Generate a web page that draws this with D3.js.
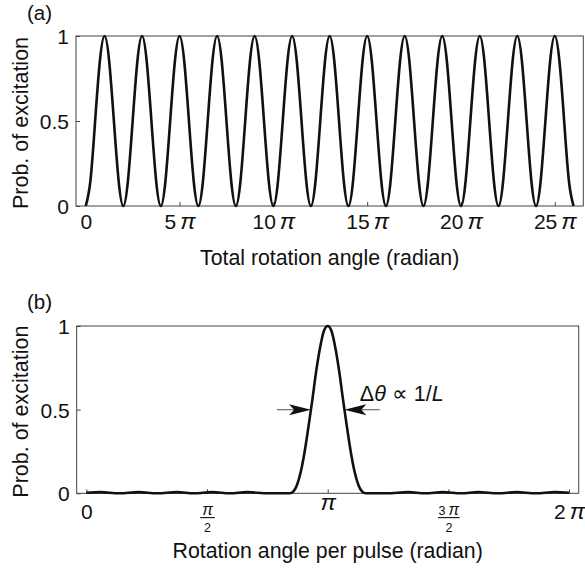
<!DOCTYPE html>
<html><head><meta charset="utf-8">
<script src="https://cdn.jsdelivr.net/npm/d3@7"></script>
<style>body{margin:0;background:#fff}svg{display:block}</style>
</head><body>
<svg id="c" width="585" height="574"></svg>
<script>
// ---------- data ----------
// Panel (a): probability read every quarter pi of total rotation angle, 0 .. 26 pi
const stepA = 0.25; // in units of pi
const probA = [
 0,0.15,0.5,0.85,1,0.85,0.5,0.15,
 0,0.15,0.5,0.85,1,0.85,0.5,0.15,
 0,0.15,0.5,0.85,1,0.85,0.5,0.15,
 0,0.15,0.5,0.85,1,0.85,0.5,0.15,
 0,0.15,0.5,0.85,1,0.85,0.5,0.15,
 0,0.15,0.5,0.85,1,0.85,0.5,0.15,
 0,0.15,0.5,0.85,1,0.85,0.5,0.15,
 0,0.15,0.5,0.85,1,0.85,0.5,0.15,
 0,0.15,0.5,0.85,1,0.85,0.5,0.15,
 0,0.15,0.5,0.85,1,0.85,0.5,0.15,
 0,0.15,0.5,0.85,1,0.85,0.5,0.15,
 0,0.15,0.5,0.85,1,0.85,0.5,0.15,
 0,0.15,0.5,0.85,1,0.85,0.5,0.15,
 0
];
const xTicksA = [0,5,10,15,20,25];          // multiples of pi
const yTicks = [0,0.5,1];
const yTickLabels = ["0","0.5","1"];

// Panel (b): rotation angle per pulse (rad) and probability
const angleB = [0,0.18,0.43,0.68,0.92,1.18,1.40,1.64,1.87,2.09,2.37,2.59,2.648,
  2.692,2.742,2.792,2.842,2.892,2.942,2.992,3.042,3.092,3.1416,
  3.191,3.241,3.291,3.341,3.391,3.441,3.491,3.541,3.591,3.635,
  3.69,3.91,4.19,4.41,4.64,4.88,5.10,5.36,5.60,5.85,6.10,6.283];
const probB = [0.003,0.007,0,0.007,0,0.007,0,0.007,0,0.007,0,0,0,
  0.01,0.05,0.13,0.25,0.40,0.56,0.73,0.87,0.97,1,
  0.97,0.87,0.73,0.56,0.40,0.25,0.13,0.05,0.01,0,
  0,0,0.007,0,0.007,0,0.007,0,0.007,0,0.007,0.003];
const xTicksB = [0,0.5,1,1.5,2];            // multiples of pi
const xTickLabelsB = [{t:"0"},{num:"π",den:"2"},{t:"π",pi:true},{num:"3 π",den:"2"},{t:"2 π"}];

// annotation (radians / probability)
const halfMax = 0.5;
const fwhmLeft = 2.925, fwhmRight = 3.358;
const arrowStartLeft = 2.48, arrowEndRight = 3.82;
const noteAngle = 3.56, noteProb = 0.55;

// ---------- drawing ----------
const FONT = '"Liberation Sans", Arial, Helvetica, sans-serif';
const PI = Math.PI;
const svg = d3.select("#c");
const frameColor = "#444";

function frame(x, y){
  const [x0,x1] = x.range(), [y0,y1] = y.range();
  svg.append("rect").attr("x",x0).attr("y",y1).attr("width",x1-x0).attr("height",y0-y1)
    .attr("fill","none").attr("stroke",frameColor).attr("stroke-width",1);
}
function yAxis(y, x){
  const g = svg.append("g").attr("transform",`translate(${x.range()[0]},0)`)
    .call(d3.axisLeft(y).tickValues(yTicks).tickSize(-4).tickPadding(7)
      .tickFormat((d,i)=>yTickLabels[i]));
  g.select(".domain").remove();
  g.attr("font-family",FONT).attr("font-size",21);
  g.selectAll(".tick line").attr("stroke",frameColor);
  g.selectAll(".tick text").attr("fill","#111").attr("dy","0.35em");
}
function bottomTicks(x, y, vals){
  const g = svg.append("g").attr("transform",`translate(0,${y.range()[0]})`)
    .call(d3.axisBottom(x).tickValues(vals).tickSize(-4).tickFormat(""));
  g.select(".domain").remove();
  g.selectAll(".tick line").attr("stroke",frameColor);
  g.selectAll(".tick text").remove();
  return g;
}
function yTitle(y, label){
  const [y0,y1] = y.range();
  svg.append("text").attr("transform",`translate(28,${(y0+y1)/2+2}) rotate(-90)`)
    .attr("text-anchor","middle").attr("font-family",FONT).attr("font-size",21.5)
    .attr("fill","#111").text(label);
}
function xTitle(x, baseline, label){
  const [x0,x1] = x.range();
  svg.append("text").attr("x",(x0+x1)/2).attr("y",baseline).attr("text-anchor","middle")
    .attr("font-family",FONT).attr("font-size",21.3).attr("fill","#111").text(label);
}
function piLabel(sel, pre, size, gap){
  sel.append("tspan").text(pre);
  sel.append("tspan").attr("dx", pre ? (gap||4) : 0).attr("font-style","italic")
     .attr("font-size", size).text("π");
}

// ---- Panel (a) ----
const xA = d3.scaleLinear().domain([-0.52*PI, 26.52*PI]).range([76, 583.3]);
const yA = d3.scaleLinear().domain([0,1]).range([206, 36]);
frame(xA, yA);
yAxis(yA, xA);
const gA = bottomTicks(xA, yA, xTicksA.map(v=>v*PI));
gA.selectAll(".tick").each(function(d,i){
  const k = xTicksA[i];
  const t = d3.select(this).append("text").attr("y",23).attr("text-anchor","middle")
    .attr("font-family",FONT).attr("font-size",21).attr("fill","#111");
  if (k === 0) t.text("0"); else piLabel(t, String(k), 23);
});
svg.append("path").datum(probA)
  .attr("d", d3.line().x((d,i)=>xA(i*stepA*PI)).y(d=>yA(d)).curve(d3.curveNatural))
  .attr("fill","none").attr("stroke","#111").attr("stroke-width",2.6).attr("stroke-linejoin","round");
yTitle(yA, "Prob. of excitation");
xTitle(xA, 265, "Total rotation angle (radian)");
svg.append("text").attr("x",27).attr("y",20).attr("font-family",FONT).attr("font-size",20.5)
  .attr("fill","#111").text("(a)");

// ---- Panel (b) ----
const xB = d3.scaleLinear().domain([-0.04*PI, 2.04*PI]).range([76.7, 578.7]);
const yB = d3.scaleLinear().domain([0,1]).range([493.3, 326]);
frame(xB, yB);
yAxis(yB, xB);
const gB = bottomTicks(xB, yB, xTicksB.map(v=>v*PI));
gB.selectAll(".tick").each(function(d,i){
  const L = xTickLabelsB[i];
  const g = d3.select(this);
  if (L.num){
    const n = g.append("text").attr("y",21.5).attr("text-anchor","middle")
      .attr("font-family",FONT).attr("font-size",12.5).attr("fill","#111");
    const parts = L.num.split(" ");
    if (parts.length > 1) piLabel(n, parts[0], 16, 3); else piLabel(n, "", 16);
    const w = n.node().getComputedTextLength() + 4;
    g.append("line").attr("x1",-w/2).attr("x2",w/2).attr("y1",24.3).attr("y2",24.3)
      .attr("stroke","#111").attr("stroke-width",1.1);
    g.append("text").attr("y",38.5).attr("text-anchor","middle")
      .attr("font-family",FONT).attr("font-size",12.5).attr("fill","#111").text(L.den);
  } else {
    const t = g.append("text").attr("y", L.pi ? 17 : 25.5).attr("text-anchor","middle")
      .attr("font-family",FONT).attr("font-size",21).attr("fill","#111");
    if (L.t === "0") t.text("0");
    else if (L.pi) piLabel(t, "", 23);
    else piLabel(t, L.t.split(" ")[0], 23);
  }
});
svg.append("path").datum(angleB.map((a,i)=>[a, probB[i]]))
  .attr("d", d3.line().x(d=>xB(d[0])).y(d=>yB(d[1])).curve(d3.curveMonotoneX))
  .attr("fill","none").attr("stroke","#111").attr("stroke-width",2.6).attr("stroke-linejoin","round");

// FWHM arrows
const ay = yB(halfMax);
svg.append("line").attr("x1",xB(arrowStartLeft)).attr("x2",xB(fwhmLeft)-15).attr("y1",ay).attr("y2",ay)
  .attr("stroke","#777").attr("stroke-width",1.3);
svg.append("line").attr("x1",xB(fwhmRight)+15).attr("x2",xB(arrowEndRight)).attr("y1",ay).attr("y2",ay)
  .attr("stroke","#777").attr("stroke-width",1.3);
const head = "M0,0 L-22,-5.5 L-17,0 L-22,5.5 Z";
svg.append("path").attr("d",head).attr("transform",`translate(${xB(fwhmLeft)},${ay})`).attr("fill","#111");
svg.append("path").attr("d",head).attr("transform",`translate(${xB(fwhmRight)},${ay}) scale(-1,1)`).attr("fill","#111");
const note = svg.append("text").attr("x",xB(noteAngle)).attr("y",yB(noteProb))
  .attr("font-family",FONT).attr("font-size",21.5).attr("fill","#111");
note.append("tspan").text("Δ");
note.append("tspan").attr("font-style","italic").text("θ");
note.append("tspan").text(" ∝ 1/");
note.append("tspan").attr("font-style","italic").text("L");

yTitle(yB, "Prob. of excitation");
xTitle(xB, 558, "Rotation angle per pulse (radian)");
svg.append("text").attr("x",27).attr("y",309).attr("font-family",FONT).attr("font-size",20.5)
  .attr("fill","#111").text("(b)");
</script>
</body></html>
